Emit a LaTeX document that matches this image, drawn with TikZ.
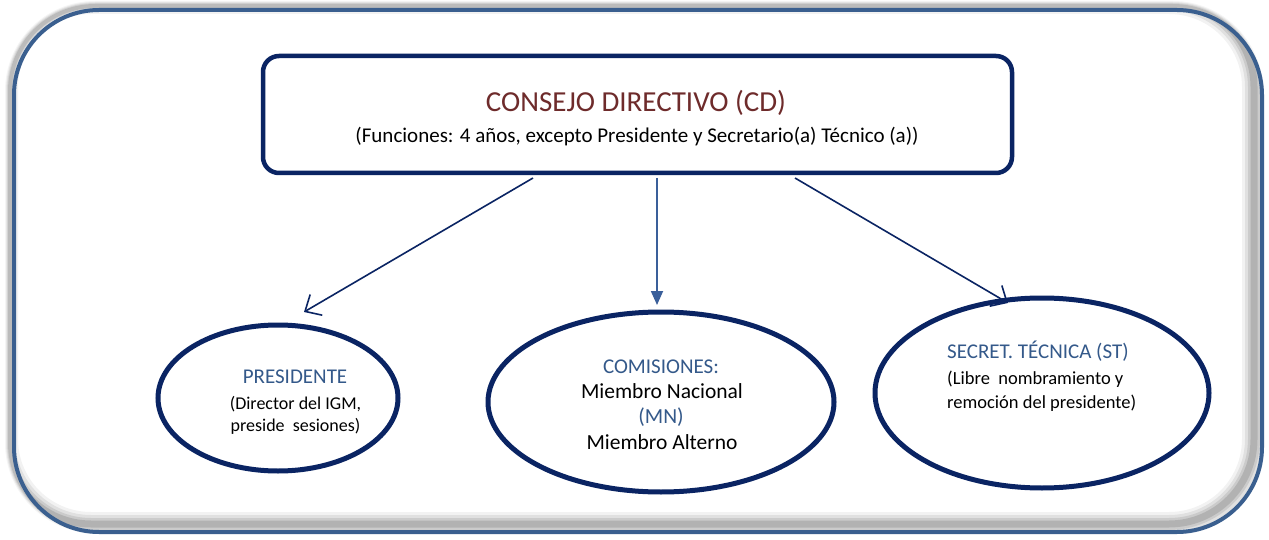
\documentclass[tikz,border=0pt]{standalone}
\usepackage{fontspec}
\setmainfont{Carlito}
\usetikzlibrary{arrows.meta,shapes.geometric}
\definecolor{navy}{HTML}{0A2463}
\definecolor{frame}{HTML}{3A5F8F}
\definecolor{titred}{HTML}{6E2B2B}
\definecolor{blue2}{HTML}{3A5F9A}
\definecolor{txtblue}{HTML}{34598A}
\tikzset{
  ellbox/.style={draw=navy, line width=5pt, ellipse, fill=white},
  conn/.style={draw=navy, line width=1.6pt},
  lbl/.style={inner sep=0pt, anchor=base},
}
\begin{document}
\begin{tikzpicture}[x=1pt,y=-1pt]
\useasboundingbox (0,0) rectangle (1269,540);
\fill[white] (0,0) rectangle (1269,540);
% shadow outside top-left
\foreach \d/\o in {10/0.04,8/0.06,6/0.08,4/0.11} {
  \draw[black, opacity=\o, line width=\d pt, rounded corners=85pt] (10,6) rectangle (1258,528);
}
\fill[white, rounded corners=85pt] (14,10) rectangle (1262,532);
% inner shadow bottom-right
\begin{scope}
  \clip[rounded corners=85pt] (14,10) rectangle (1262,532);
  \foreach \d/\o in {24/0.05,18/0.07,12/0.09,7/0.12} {
    \draw[black, opacity=\o, line width=\d pt, rounded corners=85pt] (6,2) rectangle (1254,524);
  }
\end{scope}
\draw[frame, line width=4pt, rounded corners=85pt] (14,10) rectangle (1262,532);

% CD box
\node[draw=navy, line width=4.5pt, rounded corners=16pt, minimum width=749pt, minimum height=117pt, inner sep=0pt] (cd) at (637.5,114.5) {};
\node[lbl, text=titred, font=\fontsize{29}{34}\selectfont] (cdt) at (636,112) {CONSEJO DIRECTIVO (CD)};
\node[lbl, font=\fontsize{21}{25}\selectfont] (cds) at (637,143) {(Funciones: 4 años, excepto Presidente y Secretario(a) Técnico (a))};

% ellipses
\node[ellbox, minimum width=240pt, minimum height=146pt, inner sep=0pt] (pres) at (278,398) {};
\node[ellbox, minimum width=346pt, minimum height=180pt, inner sep=0pt] (com) at (661,402) {};
\node[ellbox, minimum width=334pt, minimum height=190pt, inner sep=0pt] (sec) at (1042,393) {};

% texts
\node[lbl, text=txtblue, font=\fontsize{21}{25}\selectfont] (p1) at (295,383) {PRESIDENTE};
\node[lbl, font=\fontsize{18}{21}\selectfont] (p2) at (295.5,409) {(Director del IGM,};
\node[lbl, font=\fontsize{18}{21}\selectfont] (p3) at (295.5,431) {preside\ \ sesiones)};

\node[lbl, text=txtblue, font=\fontsize{21}{25}\selectfont] (c1) at (661,373) {COMISIONES:};
\node[lbl, font=\fontsize{21.5}{25}\selectfont] (c2) at (662,398) {Miembro Nacional};
\node[lbl, text=txtblue, font=\fontsize{21.5}{25}\selectfont] (c3) at (661,423) {(MN)};
\node[lbl, font=\fontsize{21.5}{25}\selectfont] (c4) at (662,449) {Miembro Alterno};

\node[lbl, anchor=base west, text=txtblue, font=\fontsize{21}{25}\selectfont] (s1) at (947,358) {SECRET. TÉCNICA (ST)};
\node[lbl, anchor=base west, font=\fontsize{18.5}{22}\selectfont] (s2) at (947,384) {(Libre\ \ nombramiento y};
\node[lbl, anchor=base west, font=\fontsize{18.5}{22}\selectfont] (s3) at (947,408) {remoción del presidente)};

% connectors
\coordinate (a1) at (533,178);
\coordinate (a2) at (657,178);
\coordinate (a3) at (795,178);
\coordinate (b1) at (304,312);
\coordinate (b2) at (657,305);
\coordinate (b3) at (1008,303);
\draw[conn, -{Straight Barb[length=13pt,width=24pt,line width=1.6pt]}] (a1) -- (b1);
\draw[draw=blue2, line width=1.8pt, -{Triangle[length=14pt,width=12pt]}] (a2) -- (b2);
\draw[conn, -{Straight Barb[length=13pt,width=24pt,line width=1.6pt]}] (a3) -- (b3);
\end{tikzpicture}
\end{document}
